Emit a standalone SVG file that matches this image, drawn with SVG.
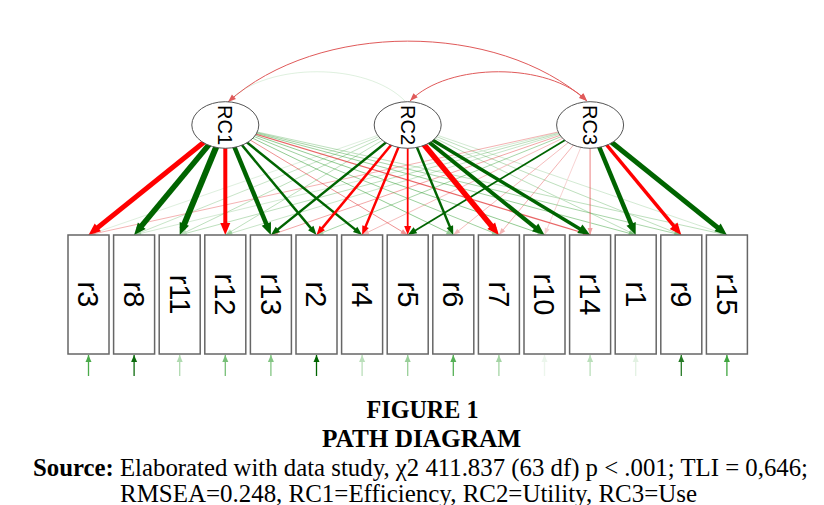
<svg xmlns="http://www.w3.org/2000/svg" width="824" height="505" viewBox="0 0 824 505">
<defs>
<style>
.box{fill:#fff;stroke:#666;stroke-width:1.5}
.lv{fill:#fff;stroke:#555;stroke-width:1}
.bl{font-family:"Liberation Sans",Arial,sans-serif;font-size:29px;fill:#000;text-anchor:middle}
.rl{font-size:20px}
.cap{font-family:"Liberation Serif","Times New Roman",serif;font-size:26px;fill:#000}
.gB{stroke:#006400;fill:none;marker-end:url(#hgB)}
.rB{stroke:#ff0000;fill:none;marker-end:url(#hrB)}
.gM{stroke:#006400;fill:none;stroke-width:2.5;marker-end:url(#hgM)}
.rM{stroke:#ff0000;fill:none;stroke-width:2.5;marker-end:url(#hrM)}
.gT{stroke:#2a9a2a;fill:none;stroke-width:1;marker-end:url(#hgT)}
.rT{stroke:#e02828;fill:none;stroke-width:1;marker-end:url(#hrT)}
.arc{stroke:#e05a5a;fill:none;stroke-width:1;marker-start:url(#hA);marker-end:url(#hA)}
.res{stroke:#1e961e;fill:none;stroke-width:1.3;marker-end:url(#hR)}
.resd{stroke:#006400;fill:none;stroke-width:1.3;marker-end:url(#hRd)}
</style>
<marker id="hgB" markerUnits="userSpaceOnUse" markerWidth="12" markerHeight="11" viewBox="0 0 12 11" refX="5" refY="5.5" orient="auto" overflow="visible"><path d="M0,0.5 L12,5.5 L0,10.5z" fill="#006400"/></marker>
<marker id="hrB" markerUnits="userSpaceOnUse" markerWidth="12" markerHeight="11" viewBox="0 0 12 11" refX="5" refY="5.5" orient="auto" overflow="visible"><path d="M0,0.5 L12,5.5 L0,10.5z" fill="#ff0000"/></marker>
<marker id="hgM" markerUnits="userSpaceOnUse" markerWidth="9" markerHeight="7" viewBox="0 0 9 7" refX="4" refY="3.5" orient="auto" overflow="visible"><path d="M0,0 L9,3.5 L0,7z" fill="#006400"/></marker>
<marker id="hrM" markerUnits="userSpaceOnUse" markerWidth="9" markerHeight="7" viewBox="0 0 9 7" refX="4" refY="3.5" orient="auto" overflow="visible"><path d="M0,0 L9,3.5 L0,7z" fill="#ff0000"/></marker>
<marker id="hgT" markerUnits="userSpaceOnUse" markerWidth="7" markerHeight="5" viewBox="0 0 7 5" refX="7" refY="2.5" orient="auto" overflow="visible"><path d="M0,0 L7,2.5 L0,5z" fill="#2a9a2a"/></marker>
<marker id="hrT" markerUnits="userSpaceOnUse" markerWidth="7" markerHeight="5" viewBox="0 0 7 5" refX="7" refY="2.5" orient="auto" overflow="visible"><path d="M0,0 L7,2.5 L0,5z" fill="#e02828"/></marker>
<marker id="hA" markerUnits="userSpaceOnUse" markerWidth="8" markerHeight="6" viewBox="0 0 8 6" refX="8" refY="3" orient="auto-start-reverse" overflow="visible"><path d="M0,0 L8,3 L0,6z" fill="#e05a5a"/></marker>
<marker id="hR" markerUnits="userSpaceOnUse" markerWidth="7" markerHeight="6" viewBox="0 0 7 6" refX="7" refY="3" orient="auto" overflow="visible"><path d="M0,0 L7,3 L0,6z" fill="#1e961e"/></marker>
<marker id="hRd" markerUnits="userSpaceOnUse" markerWidth="7" markerHeight="6" viewBox="0 0 7 6" refX="7" refY="3" orient="auto" overflow="visible"><path d="M0,0 L7,3 L0,6z" fill="#006400"/></marker>
</defs>
<rect width="824" height="505" fill="#fff"/>

<g id="connectors">
  <!-- covariances -->
  <g opacity="0.15"><path class="gT" style="marker-end:none" d="M229,101 C267,62 367,62 405,101"/></g>
  <path class="arc" d="M228,102 C318,21 497,21 587,101"/>
  <path class="arc" d="M410,101 C448,62 549,62 587,101"/>

  <!-- faint loadings -->
  <g opacity="0.15"><path class="gT" d="M407.7,125 L88.5,235"/></g>
  <g opacity="0.2"><path class="gT" d="M407.7,125 L726.9,235"/><path class="gT" d="M590.1,125 L134.1,235"/><path class="rT" d="M590.1,125 L544.5,235"/></g>
  <g opacity="0.25"><path class="gT" d="M407.7,125 L134.1,235"/><path class="gT" d="M590.1,125 L225.3,235"/></g>
  <g opacity="0.3"><path class="gT" d="M225.3,125 L726.9,235"/><path class="gT" d="M407.7,125 L179.7,235"/><path class="gT" d="M407.7,125 L225.3,235"/><path class="gT" d="M407.7,125 L635.7,235"/><path class="gT" d="M407.7,125 L681.3,235"/><path class="gT" d="M590.1,125 L179.7,235"/><path class="rT" d="M590.1,125 L362.1,235"/><path class="rT" d="M590.1,125 L453.3,235"/></g>
  <g opacity="0.35"><path class="rT" d="M590.1,125 L88.5,235"/><path class="rT" d="M590.1,125 L498.9,235"/></g>
  <g opacity="0.4"><path class="gT" d="M225.3,125 L681.3,235"/><path class="rT" d="M590.1,125 L270.9,235"/><path class="gT" d="M590.1,125 L316.5,235"/></g>
  <g opacity="0.45"><path class="gT" d="M225.3,125 L498.9,235"/><path class="gT" d="M225.3,125 L635.7,235"/><path class="rT" style="stroke-width:1.3" d="M590.1,125 L590.1,235"/></g>
  <g opacity="0.5"><path class="rT" d="M225.3,125 L407.7,235"/><path class="gT" d="M225.3,125 L453.3,235"/><path class="gT" d="M225.3,125 L544.5,235"/></g>
  <g opacity="0.7"><path class="rT" style="stroke-width:1.3" d="M225.3,125 L590.1,235"/></g>

  <!-- medium loadings -->
  <path class="gM" d="M225.3,125 L313.31,231.15"/>
  <path class="gM" d="M225.3,125 L358.2,231.86"/>
  <path class="gM" d="M407.7,125 L274.8,231.86"/>
  <path class="rM" d="M407.7,125 L319.69,231.15"/>
  <path class="rM" d="M407.7,125 L364.02,230.38"/>
  <path class="rM" style="stroke-width:1.8" d="M407.7,125 L407.7,230"/>
  <path class="gM" d="M407.7,125 L451.38,230.38"/>
  <path class="gM" style="stroke-width:1.8" d="M590.1,125 L411.98,232.42"/>

  <!-- strong loadings -->
  <path class="rB" style="stroke-width:5" d="M225.3,125 L93.95,230.61"/>
  <path class="gB" style="stroke-width:5.5" d="M225.3,125 L138.57,229.61"/>
  <path class="gB" style="stroke-width:6" d="M225.3,125 L182.38,228.53"/>
  <path class="rB" style="stroke-width:4" d="M225.3,125 L225.3,228"/>
  <path class="gB" style="stroke-width:4.5" d="M225.3,125 L268.22,228.53"/>
  <path class="rB" style="stroke-width:5.5" d="M407.7,125 L494.43,229.61"/>
  <path class="gB" style="stroke-width:4" d="M407.7,125 L539.05,230.61"/>
  <path class="gB" style="stroke-width:3.5" d="M407.7,125 L584.11,231.39"/>
  <path class="gB" style="stroke-width:4.5" d="M590.1,125 L633.02,228.53"/>
  <path class="rB" style="stroke-width:3.5" d="M590.1,125 L676.83,229.61"/>
  <path class="gB" style="stroke-width:5" d="M590.1,125 L721.45,230.61"/>

  <!-- residuals -->
  <g opacity="0.8"><path class="res" d="M88.5,376 L88.5,355"/></g>
  <g opacity="0.95"><path class="resd" d="M134.1,376 L134.1,355"/></g>
  <g opacity="0.35"><path class="res" d="M179.7,376 L179.7,355"/></g>
  <g opacity="0.6"><path class="res" d="M225.3,376 L225.3,355"/></g>
  <g opacity="0.55"><path class="res" d="M270.9,376 L270.9,355"/></g>
  <g opacity="1"><path class="resd" d="M316.5,376 L316.5,355"/></g>
  <g opacity="0.3"><path class="res" d="M362.1,376 L362.1,355"/></g>
  <g opacity="0.45"><path class="res" d="M407.7,376 L407.7,355"/></g>
  <g opacity="0.75"><path class="res" d="M453.3,376 L453.3,355"/></g>
  <g opacity="0.4"><path class="res" d="M498.9,376 L498.9,355"/></g>
  <g opacity="0.08"><path class="res" d="M544.5,376 L544.5,355"/></g>
  <g opacity="0.3"><path class="res" d="M590.1,376 L590.1,355"/></g>
  <g opacity="0.12"><path class="res" d="M635.7,376 L635.7,355"/></g>
  <g opacity="0.85"><path class="resd" d="M681.3,376 L681.3,355"/></g>
  <g opacity="0.85"><path class="res" d="M726.9,376 L726.9,355"/></g>
</g>

<g id="RC1"><ellipse class="lv" cx="225.3" cy="125" rx="33.5" ry="23.3"/><text class="bl rl" transform="translate(225.3,125) rotate(90)" dy="0.35em">RC1</text></g>
<g id="RC2"><ellipse class="lv" cx="407.7" cy="125" rx="33.5" ry="23.3"/><text class="bl rl" transform="translate(407.7,125) rotate(90)" dy="0.35em">RC2</text></g>
<g id="RC3"><ellipse class="lv" cx="590.1" cy="125" rx="33.5" ry="23.3"/><text class="bl rl" transform="translate(590.1,125) rotate(90)" dy="0.35em">RC3</text></g>

<g id="r3"><rect class="box" x="68" y="235" width="41" height="119"/><text class="bl" transform="translate(88.5,294.5) rotate(90)" dy="0.35em">r3</text></g>
<g id="r8"><rect class="box" x="113.6" y="235" width="41" height="119"/><text class="bl" transform="translate(134.1,294.5) rotate(90)" dy="0.35em">r8</text></g>
<g id="r11"><rect class="box" x="159.2" y="235" width="41" height="119"/><text class="bl" transform="translate(179.7,294.5) rotate(90)" dy="0.35em">r11</text></g>
<g id="r12"><rect class="box" x="204.8" y="235" width="41" height="119"/><text class="bl" transform="translate(225.3,294.5) rotate(90)" dy="0.35em">r12</text></g>
<g id="r13"><rect class="box" x="250.4" y="235" width="41" height="119"/><text class="bl" transform="translate(270.9,294.5) rotate(90)" dy="0.35em">r13</text></g>
<g id="r2"><rect class="box" x="296" y="235" width="41" height="119"/><text class="bl" transform="translate(316.5,294.5) rotate(90)" dy="0.35em">r2</text></g>
<g id="r4"><rect class="box" x="341.6" y="235" width="41" height="119"/><text class="bl" transform="translate(362.1,294.5) rotate(90)" dy="0.35em">r4</text></g>
<g id="r5"><rect class="box" x="387.2" y="235" width="41" height="119"/><text class="bl" transform="translate(407.7,294.5) rotate(90)" dy="0.35em">r5</text></g>
<g id="r6"><rect class="box" x="432.8" y="235" width="41" height="119"/><text class="bl" transform="translate(453.3,294.5) rotate(90)" dy="0.35em">r6</text></g>
<g id="r7"><rect class="box" x="478.4" y="235" width="41" height="119"/><text class="bl" transform="translate(498.9,294.5) rotate(90)" dy="0.35em">r7</text></g>
<g id="r10"><rect class="box" x="524" y="235" width="41" height="119"/><text class="bl" transform="translate(544.5,294.5) rotate(90)" dy="0.35em">r10</text></g>
<g id="r14"><rect class="box" x="569.6" y="235" width="41" height="119"/><text class="bl" transform="translate(590.1,294.5) rotate(90)" dy="0.35em">r14</text></g>
<g id="r1"><rect class="box" x="615.2" y="235" width="41" height="119"/><text class="bl" transform="translate(635.7,294.5) rotate(90)" dy="0.35em">r1</text></g>
<g id="r9"><rect class="box" x="660.8" y="235" width="41" height="119"/><text class="bl" transform="translate(681.3,294.5) rotate(90)" dy="0.35em">r9</text></g>
<g id="r15"><rect class="box" x="706.4" y="235" width="41" height="119"/><text class="bl" transform="translate(726.9,294.5) rotate(90)" dy="0.35em">r15</text></g>

<g id="caption">
  <text class="cap" x="366.5" y="418" textLength="112" lengthAdjust="spacingAndGlyphs" font-weight="bold">FIGURE 1</text>
  <text class="cap" x="322" y="447" textLength="199" lengthAdjust="spacingAndGlyphs" font-weight="bold">PATH DIAGRAM</text>
  <text class="cap" x="33" y="475.5" textLength="775" lengthAdjust="spacingAndGlyphs"><tspan font-weight="bold">Source:</tspan> Elaborated with data study, χ2 411.837 (63 df) p &lt; .001; TLI = 0,646;</text>
  <text class="cap" x="120" y="501.5" textLength="577" lengthAdjust="spacingAndGlyphs">RMSEA=0.248, RC1=Efficiency, RC2=Utility, RC3=Use</text>
</g>
</svg>
